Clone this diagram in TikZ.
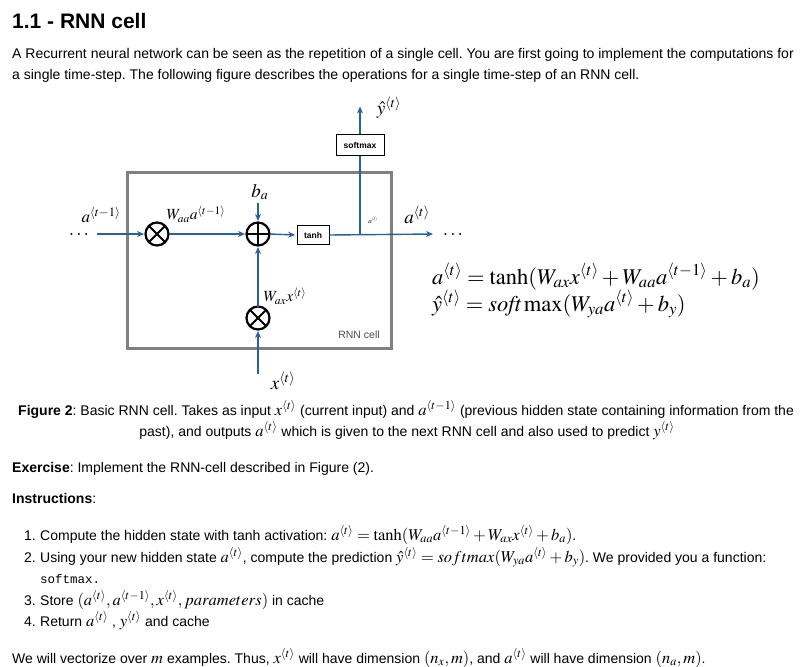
\documentclass[tikz,border=0pt]{standalone}
\usepackage{mathptmx}
\usepackage[no-math]{fontspec}
\setmainfont{Liberation Sans}
\setmonofont{Liberation Mono}
\usetikzlibrary{arrows.meta}
\definecolor{arrblue}{RGB}{38,98,160}
\definecolor{cellgray}{RGB}{128,128,128}
\newcommand{\tb}[1]{^{\langle #1\rangle}}
\newcommand{\im}[1]{{\fontsize{16.5}{18}\selectfont$#1$}}
\frenchspacing
\begin{document}
\begin{tikzpicture}[x=1pt,y=-1pt,
  txt/.style={anchor=base west, inner sep=0, font=\fontsize{14}{16}\selectfont},
  arr/.style={draw=arrblue, line width=1.4pt, -{Stealth[length=7pt,width=6pt]}, shorten >=1.5pt},
  opnode/.style={circle, draw=black, line width=2.2pt, minimum size=23pt, inner sep=0, outer sep=0},
  opline/.style={line width=2pt},
  fbox/.style={draw=black, line width=0.8pt, inner sep=0, font=\fontsize{8.5}{10}\selectfont\bfseries},
  lbl/.style={inner sep=0, font=\fontsize{19}{22}\selectfont},
  eqlbl/.style={inner sep=0, anchor=base west, font=\fontsize{22.5}{26}\selectfont},
  slbl/.style={inner sep=0, font=\fontsize{15.5}{18}\selectfont}
]
\useasboundingbox (0,0) rectangle (804,667);
\fill[white] (0,0) rectangle (804,667);

% title and intro
\node[txt, font=\fontsize{21}{24}\selectfont\bfseries] (title) at (12,28) {1.1 - RNN cell};
\node[txt] (p1) at (12,58) {A Recurrent neural network can be seen as the repetition of a single cell. You are first going to implement the computations for};
\node[txt] (p2) at (12,79) {a single time-step. The following figure describes the operations for a single time-step of an RNN cell.};

% diagram
\node[draw=cellgray, line width=3pt, minimum width=264pt, minimum height=176pt, inner sep=0] (cell) at (259,260) {};
\node[inner sep=0, font=\fontsize{10.5}{12}\selectfont, text=black!70] (rnnlbl) at (359,335) {RNN cell};

\node[opnode] (m1) at (157,234) {};
\draw[opline] (m1.north west) -- (m1.south east) (m1.north east) -- (m1.south west);
\node[opnode] (pl) at (258,234) {};
\draw[opline] (pl.north) -- (pl.south) (pl.west) -- (pl.east);
\node[opnode] (m2) at (258,318) {};
\draw[opline] (m2.north west) -- (m2.south east) (m2.north east) -- (m2.south west);

\node[fbox, minimum width=32pt, minimum height=19pt] (tanh) at (313,235) {tanh};
\node[fbox, minimum width=48pt, minimum height=21pt] (smax) at (360,145) {softmax};

\coordinate (lin) at (97,234);
\coordinate (bain) at (258,203);
\coordinate (aout) at (433,234);
\coordinate (split) at (360,234);
\coordinate (yout) at (360,105);
\coordinate (xin) at (258,374);

\draw[arr] (lin) -- (m1.west);
\draw[arr] (m1.east) -- (pl.west);
\draw[arr] (bain) -- (pl.north);
\draw[arr] (pl.east) -- (tanh.west);
\draw[arr, shorten >=0pt] (tanh.east) -- (aout);
\draw[draw=arrblue, line width=1.4pt] (split) -- (smax.south);
\draw[arr] (smax.north) -- (yout);
\draw[arr] (m2.north) -- (pl.south);
\draw[arr] (xin) -- (m2.south);

\node[lbl] (dl) at (79,234) {$\ldots$};
\node[lbl] (dr) at (453,234) {$\ldots$};
\node[lbl, font=\fontsize{17}{20}\selectfont] (aprev) at (101,215) {$a\tb{t-1}$};
\node[slbl] (waa) at (196,214) {$W_{aa}a\tb{t-1}$};
\node[lbl] (ba) at (260,192) {$b_a$};
\node[slbl] (wax) at (285,296) {$W_{ax}x\tb{t}$};
\node[inner sep=0, font=\fontsize{7}{8}\selectfont] (asmall) at (373,220) {$a\tb{t}$};
\node[lbl] (anext) at (417,215) {$a\tb{t}$};
\node[lbl] (yhat) at (389,108) {$\hat{y}\tb{t}$};
\node[lbl] (xt) at (283,381) {$x\tb{t}$};

\node[eqlbl] (eq1) at (432,284) {$a\tb{t} = \tanh(W_{ax}x\tb{t} + W_{aa}a\tb{t-1} + b_a)$};
\node[eqlbl] (eq2) at (432,311) {$\hat{y}\tb{t} = \mathit{soft}\max(W_{ya}a\tb{t} + b_y)$};

% caption
\node[txt] (cap1) at (18,415) {\textbf{Figure 2}: Basic RNN cell. Takes as input \im{x\tb{t}} (current input) and \im{a\tb{t-1}} (previous hidden state containing information from the};
\node[txt, anchor=base] (cap2) at (407,436) {past), and outputs \im{a\tb{t}} which is given to the next RNN cell and also used to predict \im{y\tb{t}}};

\node[txt] (ex) at (12,472) {\textbf{Exercise}: Implement the RNN-cell described in Figure (2).};
\node[txt] (ins) at (12,503) {\textbf{Instructions}:};

\node[txt, anchor=base east] (n1) at (36,540) {1.};
\node[txt] (i1) at (40,540) {Compute the hidden state with tanh activation: \im{a\tb{t} = \tanh(W_{aa}a\tb{t-1} + W_{ax}x\tb{t} + b_a)}.};
\node[txt, anchor=base east] (n2) at (36,562) {2.};
\node[txt] (i2) at (40,562) {Using your new hidden state \im{a\tb{t}}, compute the prediction \im{\hat{y}\tb{t} = softmax(W_{ya}a\tb{t} + b_y)}. We provided you a function:};
\node[txt, font=\fontsize{12.5}{14}\selectfont\ttfamily] (i2b) at (40,583) {softmax.};
\node[txt, anchor=base east] (n3) at (36,605) {3.};
\node[txt] (i3) at (40,605) {Store \im{(a\tb{t}, a\tb{t-1}, x\tb{t}, parameters)} in cache};
\node[txt, anchor=base east] (n4) at (36,626) {4.};
\node[txt] (i4) at (40,626) {Return \im{a\tb{t}} , \im{y\tb{t}} and cache};

\node[txt] (last) at (12,663) {We will vectorize over \im{m} examples. Thus, \im{x\tb{t}} will have dimension \im{(n_x, m)}, and \im{a\tb{t}} will have dimension \im{(n_a, m)}.};
\end{tikzpicture}
\end{document}
